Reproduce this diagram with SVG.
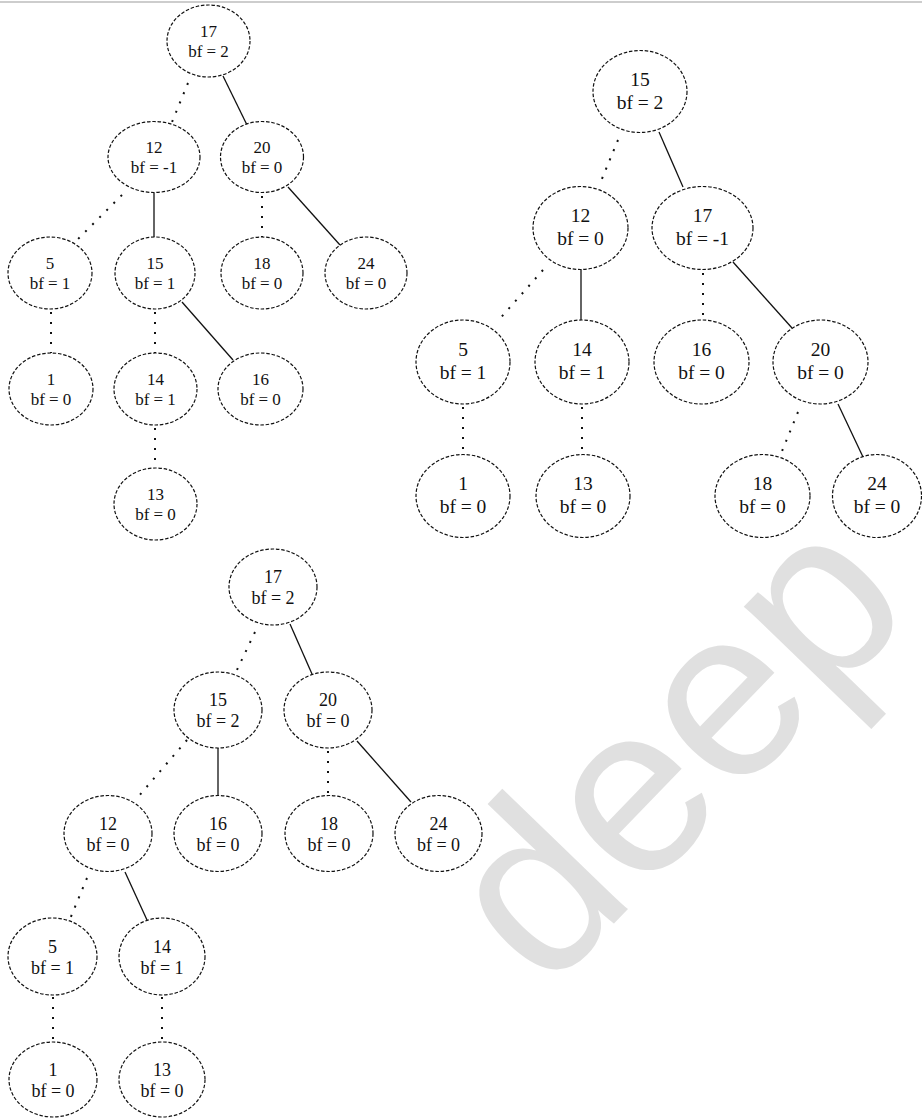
<svg xmlns="http://www.w3.org/2000/svg" width="922" height="1118" viewBox="0 0 922 1118">
<style>
  .n ellipse { fill: #fff; stroke: #111; stroke-width: 1.2; stroke-dasharray: 3.5 1.8; }
  .n text { font-family: "Liberation Serif", "Times New Roman", serif; fill: #111; text-anchor: middle; }
  .t1 text { font-size: 17px; }
  .t2 text { font-size: 19.5px; }
  .t3 text { font-size: 18px; }
  .solid { stroke: #111; stroke-width: 1.3; fill: none; }
  .dot { stroke: #111; stroke-width: 2; fill: none; stroke-dasharray: 2 8; }
  .wm { font-family: "Liberation Sans", Arial, sans-serif; font-size: 240px; fill: #e0e0e0; }
</style>
<rect x="0" y="0" width="922" height="1118" fill="#fff"/>
<line x1="0" y1="2" x2="922" y2="2" stroke="#bdbdbd" stroke-width="1.5"/>
<text id="watermark" class="wm" x="546" y="994" transform="rotate(-46 546 994)">deep</text>

<g id="connectors">
  <!-- tree 1 -->
  <line class="dot" x1="188" y1="83" x2="172" y2="122"/>
  <line class="solid" x1="223" y1="76" x2="247" y2="125"/>
  <line class="dot" x1="122" y1="195" x2="78" y2="239"/>
  <line class="solid" x1="154" y1="193" x2="154" y2="237"/>
  <line class="dot" x1="262" y1="196" x2="262" y2="237"/>
  <line class="solid" x1="288" y1="187" x2="340" y2="245"/>
  <line class="dot" x1="51" y1="312" x2="51" y2="353"/>
  <line class="dot" x1="155" y1="312" x2="155" y2="353"/>
  <line class="solid" x1="182" y1="302" x2="233" y2="360"/>
  <line class="dot" x1="155" y1="428" x2="155" y2="468"/>
  <!-- tree 2 -->
  <line class="dot" x1="618" y1="140" x2="599" y2="186"/>
  <line class="solid" x1="659" y1="132" x2="683" y2="187"/>
  <line class="dot" x1="543" y1="270" x2="497" y2="322"/>
  <line class="solid" x1="581" y1="269" x2="581" y2="320"/>
  <line class="dot" x1="703" y1="273" x2="703" y2="320"/>
  <line class="solid" x1="733" y1="262" x2="792" y2="328"/>
  <line class="dot" x1="463" y1="407" x2="463" y2="455"/>
  <line class="dot" x1="582" y1="407" x2="582" y2="455"/>
  <line class="dot" x1="798" y1="412" x2="780" y2="456"/>
  <line class="solid" x1="838" y1="404" x2="863" y2="457"/>
  <!-- tree 3 -->
  <line class="dot" x1="255" y1="632" x2="236" y2="672"/>
  <line class="solid" x1="290" y1="624" x2="312" y2="674"/>
  <line class="dot" x1="187" y1="740" x2="138" y2="797"/>
  <line class="solid" x1="218" y1="748" x2="218" y2="795"/>
  <line class="dot" x1="328" y1="751" x2="328" y2="795"/>
  <line class="solid" x1="357" y1="741" x2="411" y2="802"/>
  <line class="dot" x1="87" y1="878" x2="70" y2="919"/>
  <line class="solid" x1="125" y1="872" x2="147" y2="920"/>
  <line class="dot" x1="53" y1="997" x2="53" y2="1042"/>
  <line class="dot" x1="162" y1="997" x2="162" y2="1042"/>
</g>

<!-- Tree 1 -->
<g id="t1-n17" class="n t1"><ellipse cx="208.5" cy="41" rx="41.5" ry="36"/><text x="208.5" y="37">17</text><text x="208.5" y="57">bf = 2</text></g>
<g id="t1-n12" class="n t1"><ellipse cx="154" cy="157" rx="46" ry="35.5"/><text x="154" y="153">12</text><text x="154" y="173">bf = -1</text></g>
<g id="t1-n20" class="n t1"><ellipse cx="262" cy="157" rx="41.5" ry="35.5"/><text x="262" y="153">20</text><text x="262" y="173">bf = 0</text></g>
<g id="t1-n5" class="n t1"><ellipse cx="50" cy="273" rx="42" ry="36"/><text x="50" y="269">5</text><text x="50" y="289">bf = 1</text></g>
<g id="t1-n15" class="n t1"><ellipse cx="155" cy="273" rx="40" ry="36"/><text x="155" y="269">15</text><text x="155" y="289">bf = 1</text></g>
<g id="t1-n18" class="n t1"><ellipse cx="262" cy="273" rx="41" ry="36"/><text x="262" y="269">18</text><text x="262" y="289">bf = 0</text></g>
<g id="t1-n24" class="n t1"><ellipse cx="366" cy="273" rx="41" ry="36"/><text x="366" y="269">24</text><text x="366" y="289">bf = 0</text></g>
<g id="t1-n1" class="n t1"><ellipse cx="51" cy="389" rx="42" ry="36"/><text x="51" y="385">1</text><text x="51" y="405">bf = 0</text></g>
<g id="t1-n14" class="n t1"><ellipse cx="155.5" cy="389" rx="41.5" ry="36"/><text x="155.5" y="385">14</text><text x="155.5" y="405">bf = 1</text></g>
<g id="t1-n16" class="n t1"><ellipse cx="260.5" cy="389" rx="42.5" ry="36"/><text x="260.5" y="385">16</text><text x="260.5" y="405">bf = 0</text></g>
<g id="t1-n13" class="n t1"><ellipse cx="155.5" cy="504" rx="41.5" ry="36"/><text x="155.5" y="500">13</text><text x="155.5" y="520">bf = 0</text></g>

<!-- Tree 2 -->
<g id="t2-n15" class="n t2"><ellipse cx="640" cy="91.5" rx="47" ry="41"/><text x="640" y="85.5">15</text><text x="640" y="108.5">bf = 2</text></g>
<g id="t2-n12" class="n t2"><ellipse cx="580.5" cy="228" rx="47.5" ry="41.5"/><text x="580.5" y="222">12</text><text x="580.5" y="245">bf = 0</text></g>
<g id="t2-n17" class="n t2"><ellipse cx="702.5" cy="228" rx="50.5" ry="41.5"/><text x="702.5" y="222">17</text><text x="702.5" y="245">bf = -1</text></g>
<g id="t2-n5" class="n t2"><ellipse cx="463" cy="362" rx="47" ry="42"/><text x="463" y="356">5</text><text x="463" y="379">bf = 1</text></g>
<g id="t2-n14" class="n t2"><ellipse cx="582" cy="362" rx="47" ry="42"/><text x="582" y="356">14</text><text x="582" y="379">bf = 1</text></g>
<g id="t2-n16" class="n t2"><ellipse cx="701.5" cy="362" rx="47.5" ry="42"/><text x="701.5" y="356">16</text><text x="701.5" y="379">bf = 0</text></g>
<g id="t2-n20" class="n t2"><ellipse cx="820.5" cy="362" rx="47.5" ry="42"/><text x="820.5" y="356">20</text><text x="820.5" y="379">bf = 0</text></g>
<g id="t2-n1" class="n t2"><ellipse cx="463" cy="496" rx="47" ry="41.5"/><text x="463" y="490">1</text><text x="463" y="513">bf = 0</text></g>
<g id="t2-n13" class="n t2"><ellipse cx="583" cy="496" rx="47" ry="41.5"/><text x="583" y="490">13</text><text x="583" y="513">bf = 0</text></g>
<g id="t2-n18" class="n t2"><ellipse cx="762.5" cy="496" rx="47.5" ry="41.5"/><text x="762.5" y="490">18</text><text x="762.5" y="513">bf = 0</text></g>
<g id="t2-n24" class="n t2"><ellipse cx="877" cy="496" rx="44.5" ry="41.5"/><text x="877" y="490">24</text><text x="877" y="513">bf = 0</text></g>

<!-- Tree 3 -->
<g id="t3-n17" class="n t3"><ellipse cx="273" cy="587" rx="44" ry="38"/><text x="273" y="583">17</text><text x="273" y="604">bf = 2</text></g>
<g id="t3-n15" class="n t3"><ellipse cx="218" cy="710" rx="44" ry="38"/><text x="218" y="706">15</text><text x="218" y="727">bf = 2</text></g>
<g id="t3-n20" class="n t3"><ellipse cx="328" cy="710" rx="44" ry="38"/><text x="328" y="706">20</text><text x="328" y="727">bf = 0</text></g>
<g id="t3-n12" class="n t3"><ellipse cx="108" cy="833.5" rx="44" ry="38"/><text x="108" y="829.5">12</text><text x="108" y="850.5">bf = 0</text></g>
<g id="t3-n16" class="n t3"><ellipse cx="218" cy="833.5" rx="44" ry="38"/><text x="218" y="829.5">16</text><text x="218" y="850.5">bf = 0</text></g>
<g id="t3-n18" class="n t3"><ellipse cx="329" cy="833.5" rx="44" ry="38"/><text x="329" y="829.5">18</text><text x="329" y="850.5">bf = 0</text></g>
<g id="t3-n24" class="n t3"><ellipse cx="438.5" cy="833.5" rx="43.5" ry="38"/><text x="438.5" y="829.5">24</text><text x="438.5" y="850.5">bf = 0</text></g>
<g id="t3-n5" class="n t3"><ellipse cx="52.5" cy="956.5" rx="44.5" ry="38.5"/><text x="52.5" y="952.5">5</text><text x="52.5" y="973.5">bf = 1</text></g>
<g id="t3-n14" class="n t3"><ellipse cx="162" cy="956.5" rx="43" ry="38.5"/><text x="162" y="952.5">14</text><text x="162" y="973.5">bf = 1</text></g>
<g id="t3-n1" class="n t3"><ellipse cx="53" cy="1079.5" rx="44" ry="37.5"/><text x="53" y="1075.5">1</text><text x="53" y="1096.5">bf = 0</text></g>
<g id="t3-n13" class="n t3"><ellipse cx="162" cy="1079.5" rx="43" ry="37.5"/><text x="162" y="1075.5">13</text><text x="162" y="1096.5">bf = 0</text></g>
</svg>
